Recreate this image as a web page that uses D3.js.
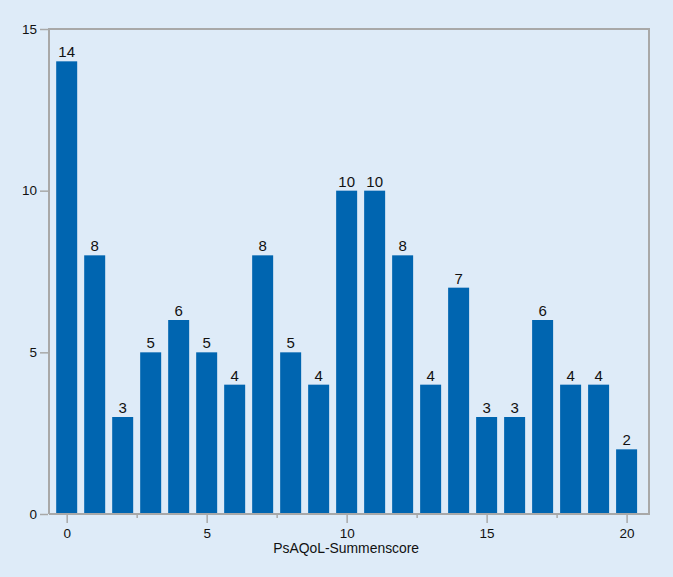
<!DOCTYPE html>
<html><head><meta charset="utf-8">
<script src="https://cdn.jsdelivr.net/npm/d3@7"></script>
<style>
html,body{margin:0;padding:0;background:#deebf8;}
svg{display:block;font-family:"Liberation Sans",Arial,sans-serif;}
</style></head>
<body>
<script>
const scores = [0,1,2,3,4,5,6,7,8,9,10,11,12,13,14,15,16,17,18,19,20];
const counts = [14,8,3,5,6,5,4,8,5,4,10,10,8,4,7,3,3,6,4,4,2];
const xMajorTicks = [0,5,10,15,20];
const xMinorTicks = [2.5,7.5,12.5,17.5];
const yTicks = [0,5,10,15];
const xTitle = "PsAQoL-Summenscore";

const W = 673, H = 577;
const L = 49, R = 649, T = 29, B = 514;
const svg = d3.select("body").append("svg").attr("width", W).attr("height", H);
svg.append("rect").attr("width", W).attr("height", H).attr("fill", "#deebf8");

const x = d3.scaleLinear().domain([-0.632, 20.8]).range([L, R]);
const y = d3.scaleLinear().domain([0, 15]).range([B, T]);
const bw = x(0.75) - x(0);
const axisColor = "#a8a8a8";

// bars
svg.append("g").selectAll("rect").data(scores).join("rect")
  .attr("x", (d) => x(d) - bw/2)
  .attr("y", (d,i) => y(counts[i]))
  .attr("width", bw)
  .attr("height", (d,i) => y(0) - y(counts[i]))
  .attr("fill", "#0065b0");

// labels
svg.append("g").selectAll("text").data(scores).join("text")
  .attr("x", d => x(d))
  .attr("y", (d,i) => y(counts[i]) - 4)
  .attr("text-anchor", "middle")
  .attr("font-size", 15)
  .attr("fill", "#111")
  .text((d,i) => counts[i]);

// frame
svg.append("path")
  .attr("d", `M${L},${B}V${T}H${R}V${B}H${L}`)
  .attr("fill", "none").attr("stroke", axisColor).attr("stroke-width", 2);

// y axis
const yAxis = d3.axisLeft(y).tickValues(yTicks).tickSize(8).tickPadding(3).tickFormat(d3.format("d"));
const gy = svg.append("g").attr("transform", `translate(${L-1},0)`).call(yAxis);
gy.select(".domain").remove();
gy.selectAll("line").attr("stroke", axisColor).attr("stroke-width", 1.5);
gy.selectAll("text").attr("font-size", 13.5).attr("fill", "#111").attr("font-family", "'Liberation Sans',Arial,sans-serif");

// x axis
const xAxis = d3.axisBottom(x).tickValues(xMajorTicks).tickSize(8).tickPadding(5).tickFormat(d3.format("d"));
const gx = svg.append("g").attr("transform", `translate(0,${B+1})`).call(xAxis);
gx.select(".domain").remove();
gx.selectAll("line").attr("stroke", axisColor).attr("stroke-width", 1.5);
gx.selectAll("text").attr("font-size", 13.5).attr("fill", "#111").attr("font-family", "'Liberation Sans',Arial,sans-serif");

const gxm = svg.append("g").attr("transform", `translate(0,${B+1})`)
  .call(d3.axisBottom(x).tickValues(xMinorTicks).tickSize(3).tickFormat(""));
gxm.select(".domain").remove();
gxm.selectAll("line").attr("stroke", axisColor).attr("stroke-width", 1.5);

svg.append("text")
  .attr("x", (x(0)+x(20))/2 - 0.5)
  .attr("y", 553)
  .attr("text-anchor", "middle")
  .attr("font-size", 13.9)
  .attr("fill", "#111")
  .text(xTitle);
</script>
</body></html>
